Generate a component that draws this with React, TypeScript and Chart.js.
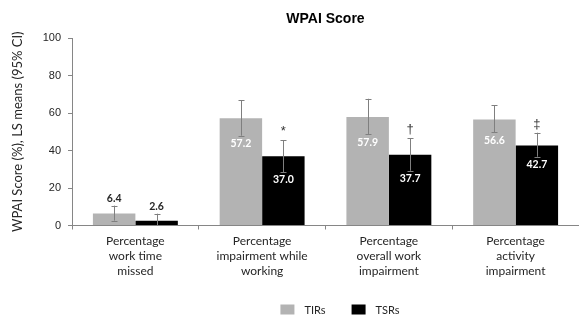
import React, { useEffect, useRef } from "react";
import { Chart, registerables } from "chart.js";

Chart.register(...registerables);

const categories: string[][] = [
  ["Percentage", "work time", "missed"],
  ["Percentage", "impairment while", "working"],
  ["Percentage", "overall work", "impairment"],
  ["Percentage", "activity", "impairment"],
];
const seriesNames = ["TIRs", "TSRs"];
const tirValues = [6.4, 57.2, 57.9, 56.6];
const tsrValues = [2.6, 37.0, 37.7, 42.7];
const tirLow = [2.6, 47.9, 48.6, 49.7];
const tirHigh = [10.6, 66.9, 67.6, 64.1];
const tsrLow = [-1.1, 28.5, 29.2, 36.7];
const tsrHigh = [6.3, 45.6, 46.5, 49.5];
const tsrMarks = ["", "*", "†", "‡"];
const yTicks = [0, 20, 40, 60, 80, 100];
const seriesColors = ["#b3b3b3", "#000000"];

const lows = [tirLow, tsrLow];
const highs = [tirHigh, tsrHigh];

const errorBarPlugin = {
  id: "errorBars",
  afterDatasetsDraw(chart: any) {
    const ctx = chart.ctx;
    const yScale = chart.scales.y;
    const area = chart.chartArea;
    chart.data.datasets.forEach((ds: any, i: number) => {
      const meta = chart.getDatasetMeta(i);
      meta.data.forEach((el: any, j: number) => {
        const x = el.x;
        const yHi = yScale.getPixelForValue(highs[i][j]);
        const yLo = Math.min(yScale.getPixelForValue(lows[i][j]), area.bottom);
        ctx.save();
        ctx.strokeStyle = "#7f7f7f";
        ctx.lineWidth = 1;
        ctx.beginPath();
        const xx = Math.round(x) + 0.5;
        ctx.moveTo(xx, yHi);
        ctx.lineTo(xx, yLo);
        ctx.moveTo(xx - 3, Math.round(yHi) + 0.5);
        ctx.lineTo(xx + 3, Math.round(yHi) + 0.5);
        if (lows[i][j] >= 0) {
          ctx.moveTo(xx - 3, Math.round(yLo) + 0.5);
          ctx.lineTo(xx + 3, Math.round(yLo) + 0.5);
        }
        ctx.stroke();

        // value labels
        const v = ds.data[j] as number;
        ctx.font = "bold 10.5px Lato";
        ctx.textAlign = "center";
        ctx.textBaseline = "middle";
        if (v < 15) {
          ctx.fillStyle = "#262626";
          ctx.fillText(v.toFixed(1), x, yHi - 7);
        } else {
          ctx.fillStyle = "#ffffff";
          ctx.fillText(v.toFixed(1), x, yLo + 8);
        }

        // significance marks
        if (i === 1 && tsrMarks[j]) {
          ctx.fillStyle = "#333333";
          ctx.font = "13px 'Liberation Sans'";
          ctx.textBaseline = "bottom";
          ctx.fillText(tsrMarks[j], x, yHi - 2);
        }
        ctx.restore();
      });
    });
  },
};

const legendPlugin = {
  id: "customLegend",
  afterDraw(chart: any) {
    const ctx = chart.ctx;
    ctx.save();
    ctx.font = "11px Lato";
    ctx.textBaseline = "middle";
    ctx.textAlign = "left";
    const box = 14;
    const gap = 10;
    const itemGap = 26;
    const widths = seriesNames.map((n) => box + gap + ctx.measureText(n).width);
    const total = widths.reduce((a, b) => a + b, 0) + itemGap * (widths.length - 1);
    let x = 340 - total / 2;
    const cy = 309.5;
    seriesNames.forEach((n, i) => {
      ctx.fillStyle = seriesColors[i];
      ctx.fillRect(x, cy - 5, box, 10);
      ctx.fillStyle = "#262626";
      ctx.fillText(n, x + box + gap, cy + 0.5);
      x += widths[i] + itemGap;
    });
    ctx.restore();
  },
};

export default function App() {
  const ref = useRef<HTMLCanvasElement | null>(null);
  useEffect(() => {
    document.body.style.margin = "0";
    const canvas = ref.current;
    if (!canvas) return;
    const chart = new Chart(canvas, {
      type: "bar",
      data: {
        labels: categories as any,
        datasets: [
          {
            label: seriesNames[0],
            data: tirValues,
            backgroundColor: seriesColors[0],
            categoryPercentage: 0.67,
            barPercentage: 1.0,
          },
          {
            label: seriesNames[1],
            data: tsrValues,
            backgroundColor: seriesColors[1],
            categoryPercentage: 0.67,
            barPercentage: 1.0,
          },
        ],
      },
      options: {
        responsive: false,
        animation: false,
        devicePixelRatio: 1,
        layout: { padding: 0 },
        plugins: {
          legend: { display: false },
          tooltip: { enabled: false },
          title: {
            display: true,
            text: "WPAI Score",
            fullSize: false,
            color: "#000000",
            font: { family: "'Liberation Sans'", size: 14, weight: "bold" },
            padding: { top: 11, bottom: 10.2 },
          },
        },
        scales: {
          x: {
            offset: true,
            grid: {
              display: true,
              drawOnChartArea: false,
              drawTicks: true,
              tickLength: 4,
              color: "#868686",
              offset: true,
            },
            border: { display: true, color: "#868686", width: 1 },
            ticks: {
              color: "#262626",
              font: { family: "Lato", size: 12, lineHeight: 1.25 },
              padding: 4,
              maxRotation: 0,
              autoSkip: false,
            },
            afterFit: (s: any) => {
              s.height = 89.5;
            },
          },
          y: {
            min: 0,
            max: 100,
            afterBuildTicks: (s: any) => {
              s.ticks = yTicks.map((v) => ({ value: v }));
            },
            ticks: {
              color: "#262626",
              font: { family: "'Liberation Sans'", size: 11 },
              padding: 7,
            },
            grid: {
              display: true,
              drawOnChartArea: false,
              drawTicks: true,
              tickLength: 4,
              color: "#868686",
            },
            border: { display: true, color: "#868686", width: 1 },
            title: {
              display: true,
              text: "WPAI Score (%), LS means (95% CI)",
              color: "#262626",
              font: { family: "Lato", size: 13 },
              padding: { top: 10, bottom: 0 },
            },
            afterFit: (s: any) => {
              s.width = 72;
            },
          },
        },
      },
      plugins: [errorBarPlugin, legendPlugin],
    });
    return () => chart.destroy();
  }, []);
  return (
    <div style={{ position: "absolute", left: 0, top: 0, width: 579, height: 315 }}>
      <canvas ref={ref} width={579} height={315} style={{ display: "block" }} />
    </div>
  );
}
